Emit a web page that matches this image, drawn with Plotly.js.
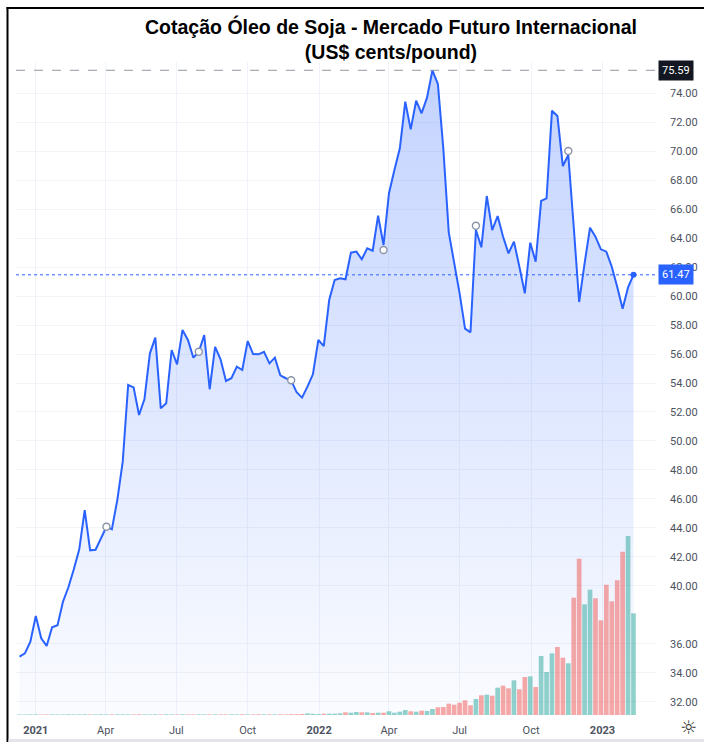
<!DOCTYPE html>
<html>
<head>
<meta charset="utf-8">
<script src="https://cdn.plot.ly/plotly-3.0.1.min.js"></script>
<style>html,body{margin:0;padding:0;background:#fff;}#chart{width:704px;height:742px;}</style>
</head>
<body>
<div id="chart"></div>
<script>
// Weekly closes (US$ cents/pound), first week ending 2020-12-11
const startDate = '2020-12-11';
const price = [
  35.11, 35.34, 36.14, 37.92, 36.38, 35.85, 37.14, 37.28, 38.90, 39.90,
  41.14, 42.52, 45.23, 42.45, 42.49, 43.28, 44.08, 43.90, 45.92, 48.57,
  53.86, 53.70, 51.79, 52.90, 56.05, 57.13, 52.25, 52.60, 56.28, 55.29,
  57.66, 56.97, 55.75, 56.16, 57.31, 53.57, 56.50, 55.64, 54.14, 54.33,
  55.13, 54.90, 56.90, 56.00, 55.98, 56.16, 55.36, 55.75, 54.53, 54.33,
  54.19, 53.36, 52.99, 53.75, 54.60, 56.97, 56.55, 59.73, 61.11, 61.23,
  61.16, 63.00, 63.07, 62.54, 63.30, 63.13, 65.55, 63.53, 67.10, 68.70,
  70.20, 73.42, 71.51, 73.49, 72.62, 73.70, 75.59, 74.64, 70.20, 64.40,
  62.37, 60.19, 57.75, 57.50, 64.56, 63.37, 66.91, 64.56, 65.53, 64.10,
  62.95, 63.76, 62.03, 60.19, 63.69, 62.37, 66.57, 66.75, 72.80, 72.43,
  68.98, 69.74, 64.79, 59.59, 62.26, 64.72, 64.10, 63.23, 63.07, 62.03,
  60.65, 59.13, 60.60, 61.47
];
// Weekly volume (relative units)
const volume = [
  0.5, 0.5, 0.6, 0.6, 0.5, 0.6, 0.6, 0.5, 0.6, 0.7,
  0.6, 0.6, 0.7, 0.6, 0.6, 0.7, 0.6, 0.6, 0.7, 0.7,
  0.6, 0.6, 0.7, 0.6, 0.6, 0.7, 0.6, 0.7, 0.6, 0.6,
  0.7, 0.6, 0.6, 0.7, 0.6, 0.6, 0.7, 0.6, 0.6, 0.7,
  0.6, 0.7, 0.6, 0.6, 0.7, 0.7, 0.6, 0.7, 0.7, 0.6,
  0.8, 0.8, 1.0, 1.6, 1.2, 0.9, 1.3, 1.3, 1.3, 1.7,
  2.7, 2.3, 3.0, 2.7, 2.7, 2.0, 2.3, 2.3, 3.7, 2.3,
  3.3, 5.0, 3.7, 3.3, 4.3, 4.0, 6.0, 7.7, 8.0, 11.3,
  10.3, 12.3, 14.7, 9.7, 16.0, 19.7, 20.3, 19.3, 27.3, 29.3,
  26.7, 34.7, 25.7, 38.0, 38.7, 28.0, 59.0, 43.0, 61.7, 68.0,
  57.3, 51.7, 117.3, 156.3, 110.7, 125.3, 116.7, 94.7, 130.3, 113.7,
  134.7, 163.3, 179.0, 101.7
];
// Event markers (hollow circles)
const eventDates = ['2021-04-02', '2021-07-30', '2021-11-26', '2022-03-25', '2022-07-22', '2022-11-18'];
const eventValues = [44.08, 56.16, 54.19, 63.18, 64.86, 70.02];

const tickDates = ['2021-01-01','2021-04-01','2021-07-01','2021-10-01','2022-01-01','2022-04-01','2022-07-01','2022-10-01','2023-01-01'];
const tickLabels = ['<b>2021</b>','Apr','Jul','Oct','<b>2022</b>','Apr','Jul','Oct','<b>2023</b>'];
const priceTicks = [32,34,36,40,42,44,46,48,50,52,54,56,58,60,62,64,66,68,70,72,74];

const highValue = Math.max(...price);
const lastValue = price[price.length - 1];

// weekly dates
const dates = [];
{
  const d0 = new Date(startDate + 'T00:00:00Z');
  for (let i = 0; i < price.length; i++) {
    const d = new Date(d0.getTime() + i * 7 * 86400000);
    dates.push(d.toISOString().slice(0, 10));
  }
}
const volColors = price.map((p, i) => (i === 0 || p >= price[i - 1]) ? 'rgba(38,166,154,0.5)' : 'rgba(239,83,80,0.5)');

const blue = '#2962ff';
const axisFont = {family: 'Roboto, "Liberation Sans", sans-serif', size: 11, color: '#4c525e'};

const traces = [
  {
    type: 'scatter', x: dates, y: price, mode: 'lines',
    line: {color: blue, width: 2},
    fill: 'tozeroy',
    fillgradient: {type: 'vertical', colorscale: [[0, 'rgba(41,98,255,0.02)'], [1, 'rgba(41,98,255,0.28)']], start: 31, stop: highValue},
    hoverinfo: 'skip', showlegend: false
  },
  {
    type: 'bar', x: dates, y: volume, yaxis: 'y2',
    marker: {color: volColors, line: {width: 0}},
    hoverinfo: 'skip', showlegend: false
  },
  {
    type: 'scatter', x: eventDates, y: eventValues, mode: 'markers',
    marker: {symbol: 'circle', size: 7, color: '#ffffff', line: {color: '#8a93a6', width: 1.4}},
    hoverinfo: 'skip', showlegend: false
  },
  {
    type: 'scatter', x: [dates[dates.length - 1]], y: [lastValue], mode: 'markers',
    marker: {symbol: 'circle', size: 6, color: blue},
    hoverinfo: 'skip', showlegend: false
  }
];

const W = 704, H = 742, L = 16, R = 48, T = 62, B = 27;
const pw = W - L - R, ph = H - T - B;
const px = x => (x - L) / pw;
const py = y => (H - B - y) / ph;

const layout = {
  width: W, height: H,
  margin: {l: L, r: R, t: T, b: B, pad: 0},
  paper_bgcolor: '#ffffff', plot_bgcolor: '#ffffff',
  showlegend: false,
  bargap: 0.14,
  title: {
    text: 'Cotação Óleo de Soja - Mercado Futuro Internacional<br>(US$ cents/pound)',
    font: {family: '"Liberation Sans", Arial, sans-serif', size: 19.5, color: '#000000', weight: 'bold'},
    x: 391 / W, xanchor: 'center', xref: 'container',
    y: 1 - 34 / H, yanchor: 'top', yref: 'container'
  },
  xaxis: {
    type: 'date',
    range: ['2020-12-06 12:00', '2023-03-11'],
    tickvals: tickDates, ticktext: tickLabels,
    showgrid: true, gridcolor: '#f0f3fa', gridwidth: 1,
    zeroline: false, showline: false, ticks: '',
    ticklabelstandoff: 7,
    tickfont: axisFont
  },
  yaxis: {
    side: 'right',
    range: [74 - (H - B - 93.3) / 14.486, 74 + (93.3 - T) / 14.486],
    tickvals: priceTicks, ticktext: priceTicks.map(v => v.toFixed(2)),
    showgrid: true, gridcolor: '#f2f4f8', gridwidth: 1,
    zeroline: false, showline: false, ticks: '',
    ticklabelstandoff: 13,
    tickfont: axisFont
  },
  yaxis2: {
    overlaying: 'y', side: 'right', range: [0, ph],
    visible: false, showgrid: false, zeroline: false
  },
  shapes: [
    {type: 'line', xref: 'paper', yref: 'y', x0: 0, x1: 1, y0: highValue, y1: highValue,
     line: {color: '#9598a1', width: 1, dash: 'dash'}},
    {type: 'line', xref: 'paper', yref: 'y', x0: 0, x1: 1, y0: lastValue, y1: lastValue,
     line: {color: blue, width: 1, dash: 'dot'}},
    {type: 'line', xref: 'paper', yref: 'paper', x0: px(7.5), x1: px(7.5), y0: py(742), y1: py(7),
     line: {color: '#000000', width: 2}},
    {type: 'line', xref: 'paper', yref: 'paper', x0: px(6.5), x1: px(704), y0: py(8), y1: py(8),
     line: {color: '#000000', width: 2}},
    {type: 'rect', xref: 'paper', yref: 'paper', x0: px(8.5), x1: px(704), y0: py(742), y1: py(739),
     fillcolor: '#e3e5ea', line: {width: 0}}
  ],
  annotations: [
    {xref: 'paper', yref: 'y', x: 1, y: highValue, xanchor: 'left', yanchor: 'middle', xshift: 2,
     text: highValue.toFixed(2), showarrow: false, bgcolor: '#131722', borderpad: 3,
     font: {family: axisFont.family, size: 11, color: '#ffffff'}},
    {xref: 'paper', yref: 'y', x: 1, y: lastValue, xanchor: 'left', yanchor: 'middle', xshift: 2,
     text: lastValue.toFixed(2), showarrow: false, bgcolor: blue, borderpad: 3,
     font: {family: axisFont.family, size: 11, color: '#ffffff'}},
    {xref: 'paper', yref: 'paper', x: px(688), y: py(727), xanchor: 'center', yanchor: 'middle',
     text: '☼', showarrow: false, font: {family: '"DejaVu Sans", sans-serif', size: 19, color: '#333333'}}
  ]
};

Plotly.newPlot('chart', traces, layout, {displayModeBar: false, staticPlot: true});
</script>
</body>
</html>
